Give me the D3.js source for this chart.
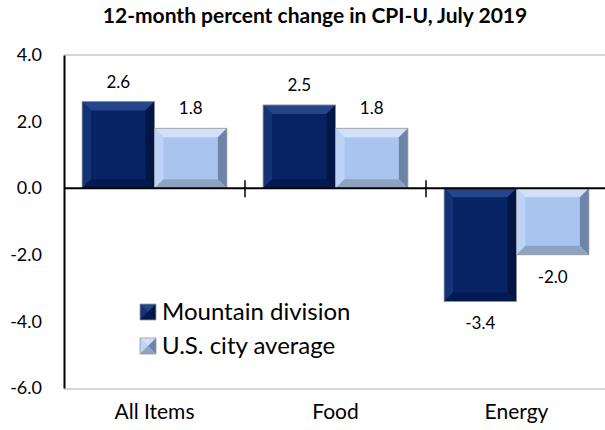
<!DOCTYPE html>
<html>
<head>
<meta charset="utf-8">
<script src="https://cdn.jsdelivr.net/npm/d3@7"></script>
<style>
  body { margin: 0; background: #fff; }
  svg { font-family: Lato, "Open Sans", sans-serif; }
  .axis text { fill: #000; }
</style>
</head>
<body>
<script>
// data
var categories = ["All Items", "Food", "Energy"];
var seriesNames = ["Mountain division", "U.S. city average"];
var mountain = [2.6, 2.5, -3.4];
var usAverage = [1.8, 1.8, -2.0];
var yTicks = [-6, -4, -2, 0, 2, 4];

var W = 605, H = 430;
var plot = { left: 64, right: 607, top: 55, bottom: 388 };

// plain hyphen for negatives, like the original
var fmt = function (v) { return v.toFixed(1); };

// bevel colours: [face, top, left, right, bottom]
var palette = {
  "Mountain division": ["#062463", "#24458a", "#143376", "#021646", "#03194f"],
  "U.S. city average": ["#a9c5ef", "#d0e1f9", "#bcd3f5", "#6d84a8", "#8ea3c2"]
};

var svg = d3.select("body").append("svg")
  .attr("width", W)
  .attr("height", H);

var x0 = d3.scaleBand()
  .domain(categories)
  .range([plot.left, plot.right])
  .padding(0);

var x1 = d3.scaleBand()
  .domain(seriesNames)
  .range([0, x0.bandwidth()])
  .paddingInner(0)
  .paddingOuter(0.25);

var y = d3.scaleLinear()
  .domain([-6, 4])
  .range([plot.bottom, plot.top]);

var rows = [];
categories.forEach(function (c, i) {
  rows.push({ cat: c, series: seriesNames[0], value: mountain[i] });
  rows.push({ cat: c, series: seriesNames[1], value: usAverage[i] });
});

// frame: light grey top / bottom lines
svg.append("line")
  .attr("x1", plot.left).attr("x2", W)
  .attr("y1", plot.top).attr("y2", plot.top)
  .attr("stroke", "#c8c8c8").attr("stroke-width", 1.5);
svg.append("line")
  .attr("x1", plot.left).attr("x2", W)
  .attr("y1", plot.bottom + 1).attr("y2", plot.bottom + 1)
  .attr("stroke", "#c8c8c8").attr("stroke-width", 1.5);

// bevelled bar
function bevel(g, bx, by, bw, bh, cols, b) {
  b = Math.min(b, bw / 2, bh / 2);
  var x2 = bx + bw, y2 = by + bh;
  g.append("rect").attr("x", bx).attr("y", by).attr("width", bw).attr("height", bh)
    .attr("fill", cols[0]);
  var faces = [
    [[bx, by], [x2, by], [x2 - b, by + b], [bx + b, by + b], cols[1]],
    [[bx, by], [bx + b, by + b], [bx + b, y2 - b], [bx, y2], cols[2]],
    [[x2, by], [x2, y2], [x2 - b, y2 - b], [x2 - b, by + b], cols[3]],
    [[bx, y2], [bx + b, y2 - b], [x2 - b, y2 - b], [x2, y2], cols[4]]
  ];
  faces.forEach(function (f) {
    g.append("path")
      .attr("d", "M" + f.slice(0, 4).map(function (p) { return p.join(","); }).join("L") + "Z")
      .attr("fill", f[4]);
  });
  g.append("rect").attr("x", bx).attr("y", by).attr("width", bw).attr("height", bh)
    .attr("fill", "none").attr("stroke", "#9a9a9a").attr("stroke-width", 0.8);
}

var bars = svg.append("g");
rows.forEach(function (d) {
  var bx = x0(d.cat) + x1(d.series);
  var top = y(Math.max(0, d.value)), bot = y(Math.min(0, d.value));
  bevel(bars, bx, top, x1.bandwidth(), bot - top, palette[d.series], 9);
});

// value labels
svg.append("g").selectAll("text").data(rows).enter()
  .append("text")
  .attr("x", function (d) { return x0(d.cat) + x1(d.series) + x1.bandwidth() / 2; })
  .attr("y", function (d) { return d.value >= 0 ? y(d.value) - 14 : y(d.value) + 28; })
  .attr("text-anchor", "middle")
  .style("font-size", "17px")
  .text(function (d) { return fmt(d.value); });

// y axis
var yAxis = svg.append("g")
  .attr("class", "axis")
  .attr("transform", "translate(" + plot.left + ",0)")
  .call(d3.axisLeft(y).tickValues(yTicks).tickFormat(fmt).tickSize(0).tickPadding(22));
yAxis.select(".domain").attr("stroke", "#000").attr("stroke-width", 2);
yAxis.selectAll("text").style("font-size", "18px").style("font-family", "Lato, sans-serif");

// zero line with category separators
svg.append("line")
  .attr("x1", plot.left).attr("x2", W)
  .attr("y1", y(0)).attr("y2", y(0))
  .attr("stroke", "#000").attr("stroke-width", 2);
svg.append("g").selectAll("line").data(categories.slice(1)).enter()
  .append("line")
  .attr("x1", function (c) { return x0(c); })
  .attr("x2", function (c) { return x0(c); })
  .attr("y1", y(0) - 8).attr("y2", y(0) + 9)
  .attr("stroke", "#000").attr("stroke-width", 1.5);

// category labels
var xAxis = svg.append("g")
  .attr("class", "axis")
  .attr("transform", "translate(0," + plot.bottom + ")")
  .call(d3.axisBottom(x0).tickSize(0).tickPadding(16));
xAxis.select(".domain").remove();
xAxis.selectAll("text").style("font-size", "21px").style("font-family", "Lato, sans-serif");

// title
svg.append("text")
  .attr("x", 315).attr("y", 23)
  .attr("text-anchor", "middle")
  .style("font-size", "21px")
  .style("font-weight", "bold")
  .text("12-month percent change in CPI-U, July 2019");

// legend
var legend = svg.append("g").attr("transform", "translate(140,304)");
seriesNames.forEach(function (s, i) {
  var g = legend.append("g").attr("transform", "translate(0," + (i * 34) + ")");
  bevel(g, 0, 0, 16, 16, palette[s], 8);
  g.append("text")
    .attr("x", 22).attr("y", 16)
    .style("font-size", "24px")
    .text(s);
});
</script>
</body>
</html>
